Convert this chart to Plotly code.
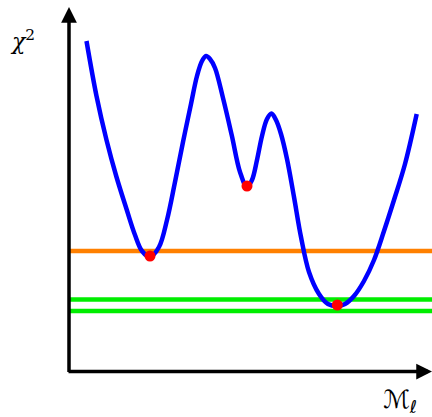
import plotly.graph_objects as go

# curve samples (arbitrary units, origin at axes corner)
mass = [17.5, 27.5, 37.5, 47.5, 57.5, 66, 73, 81, 90, 98, 106, 114, 122, 128, 133, 137,
        141, 146, 154, 162.7, 171, 178, 183, 188, 193, 198, 202.5,
        207, 212, 218, 225, 232, 240, 250, 259, 268, 276, 285, 295, 305, 315, 325, 336, 347.7]
chi2 = [331, 276, 232, 195, 163, 137, 121, 115, 125, 152, 190, 230, 268, 296, 311, 316,
        313, 304, 274, 237, 200, 185, 192, 212, 236, 253, 258.5,
        252, 238, 213, 175, 135, 100, 78, 68, 66, 68, 76, 91, 112, 141, 172, 208, 258]

min_mass = [81, 178, 268.3]
min_chi2 = [116, 186, 67]

orange_level = 121
green_levels = [72.5, 61]
line_span = [1, 363]

x_range = [-69, 363]
y_range = [-45, 372]

fig = go.Figure()

fig.add_trace(go.Scatter(x=line_span, y=[orange_level, orange_level], mode="lines",
                         line=dict(color="#ff8000", width=4.5), hoverinfo="skip"))
for g in green_levels:
    fig.add_trace(go.Scatter(x=line_span, y=[g, g], mode="lines",
                             line=dict(color="#00ee00", width=4.5), hoverinfo="skip"))

fig.add_trace(go.Scatter(x=mass, y=chi2, mode="lines",
                         line=dict(color="#0000ff", width=4.5, shape="spline", smoothing=1.0)))
fig.add_trace(go.Scatter(x=min_mass, y=min_chi2, mode="markers", marker=dict(color="#ff0000", size=11)))

# axes with arrows
fig.add_annotation(x=0, y=365, ax=0, ay=-1.5, xref="x", yref="y", axref="x", ayref="y",
                   showarrow=True, arrowhead=2, arrowsize=0.9, arrowwidth=3.5, arrowcolor="black", text="")
fig.add_annotation(x=363, y=0.5, ax=-2, ay=0.5, xref="x", yref="y", axref="x", ayref="y",
                   showarrow=True, arrowhead=2, arrowsize=0.9, arrowwidth=3.5, arrowcolor="black", text="")

fig.add_annotation(x=-47, y=332, xref="x", yref="y", text="<i>χ</i><sup>2</sup>", showarrow=False,
                   font=dict(family="DejaVu Serif", size=22, color="black"))
fig.add_annotation(x=331, y=-29, xref="x", yref="y", text="ℳ<sub>ℓ</sub>", showarrow=False,
                   font=dict(family="DejaVu Sans", size=25, color="black"))

fig.update_layout(
    width=432, height=417, margin=dict(l=0, r=0, t=0, b=0),
    paper_bgcolor="white", plot_bgcolor="white", showlegend=False,
    xaxis=dict(range=x_range, visible=False, fixedrange=True),
    yaxis=dict(range=y_range, visible=False, fixedrange=True),
)

fig.write_html("out.html", config={"displayModeBar": False},
               post_script="document.body.style.margin='0';document.body.style.overflow='hidden';")
